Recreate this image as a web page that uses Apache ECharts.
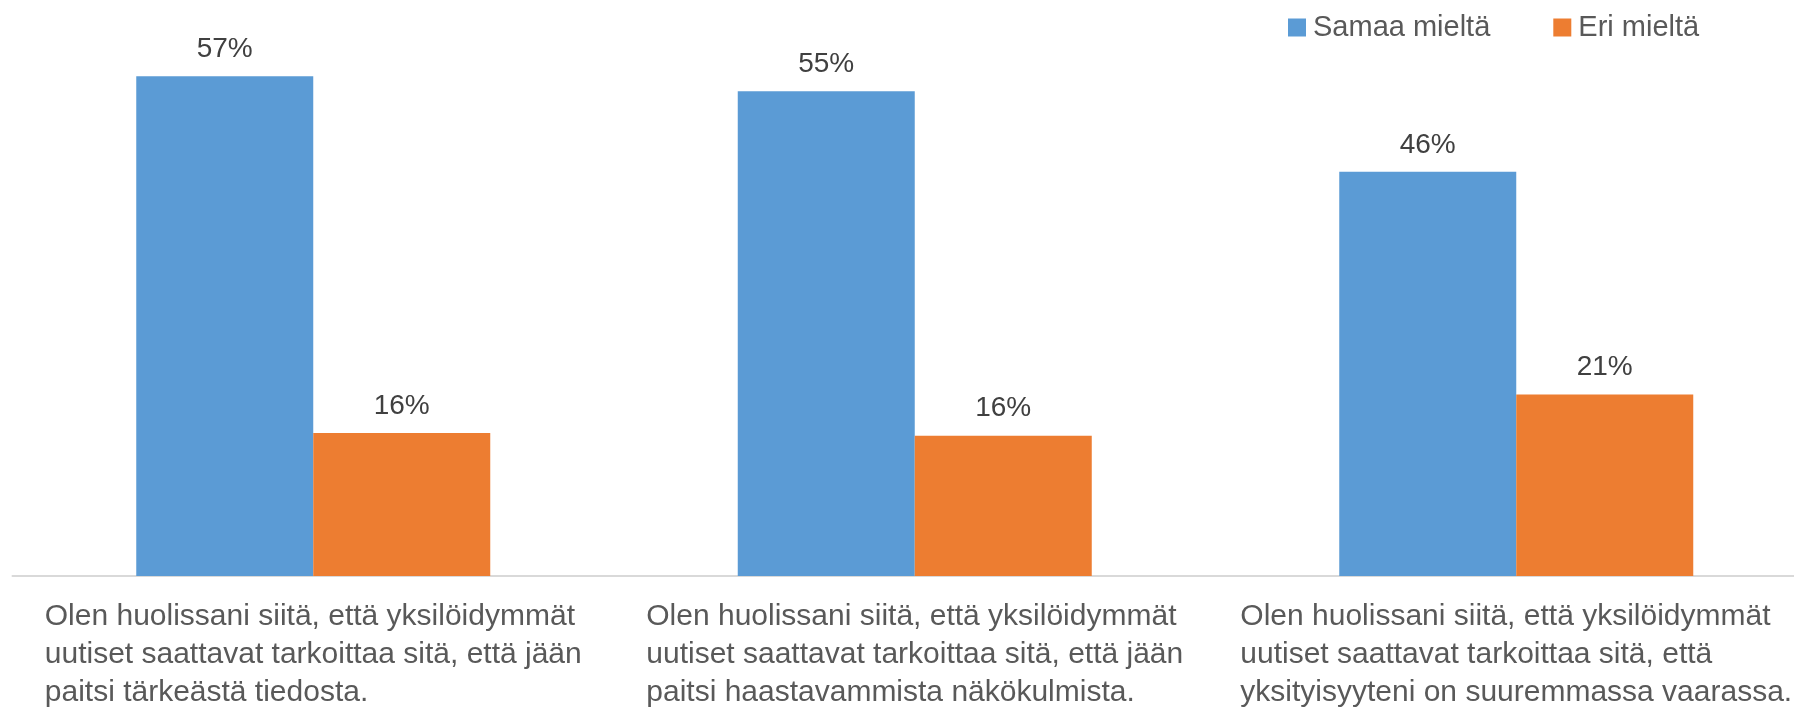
<!DOCTYPE html>
<html>
<head>
<meta charset="utf-8">
<script src="https://cdn.jsdelivr.net/npm/echarts@6/dist/echarts.min.js"></script>
<style>
  html, body { margin: 0; padding: 0; background: #fff; }
  #chart { width: 1794px; height: 711px; }
</style>
</head>
<body>
<div id="chart"></div>
<script>
// väittämät (x-akselin tekstit)
var categories = [
  'Olen huolissani siitä, että yksilöidymmät\nuutiset saattavat tarkoittaa sitä, että jään\npaitsi tärkeästä tiedosta.',
  'Olen huolissani siitä, että yksilöidymmät\nuutiset saattavat tarkoittaa sitä, että jään\npaitsi haastavammista näkökulmista.',
  'Olen huolissani siitä, että yksilöidymmät\nuutiset saattavat tarkoittaa sitä, että\nyksityisyyteni on suuremmassa vaarassa.'
];
var samaaMielta = [57.0, 55.3, 46.1];
var eriMielta = [16.3, 16.0, 20.7];
var seriesNames = ['Samaa mieltä', 'Eri mieltä'];

var font = "'Liberation Sans', Arial, sans-serif";

var myChart = echarts.init(document.getElementById('chart'));

var labelStyle = {
  show: true,
  position: 'top',
  distance: 13,
  fontFamily: font,
  fontSize: 28,
  color: '#404040',
  formatter: function (p) { return Math.round(p.value) + '%'; }
};

var option = {
  animation: false,
  textStyle: { fontFamily: font },
  legend: {
    data: seriesNames,
    left: 1283,
    top: 8,
    itemWidth: 18,
    itemHeight: 18,
    itemGap: 63,
    icon: 'rect',
    textStyle: { fontFamily: font, fontSize: 29, color: '#595959', padding: [0, 0, 0, 2] }
  },
  grid: {
    left: 12.5,
    right: -23,
    top: 50,
    bottom: 135,
    containLabel: false,
    outerBoundsMode: 'none'
  },
  xAxis: {
    type: 'category',
    data: categories,
    axisTick: { show: false },
    axisLine: { lineStyle: { color: '#d9d9d9', width: 2 } },
    axisLabel: {
      interval: 0,
      margin: 22,
      formatter: function (v) { return '{t|' + v + '}'; },
      rich: {
        t: {
          align: 'left',
          fontFamily: font,
          fontSize: 30,
          lineHeight: 38,
          color: '#595959'
        }
      }
    }
  },
  yAxis: {
    type: 'value',
    min: 0,
    max: 60,
    show: false,
    splitLine: { show: false }
  },
  series: [
    {
      name: seriesNames[0],
      type: 'bar',
      barWidth: 177,
      barGap: '0%',
      itemStyle: { color: '#5B9BD5' },
      label: labelStyle,
      data: samaaMielta
    },
    {
      name: seriesNames[1],
      type: 'bar',
      barWidth: 177,
      barGap: '0%',
      itemStyle: { color: '#ED7D31' },
      label: labelStyle,
      data: eriMielta
    }
  ]
};

myChart.setOption(option);
window.addEventListener('resize', function () { myChart.resize(); });
</script>
</body>
</html>
